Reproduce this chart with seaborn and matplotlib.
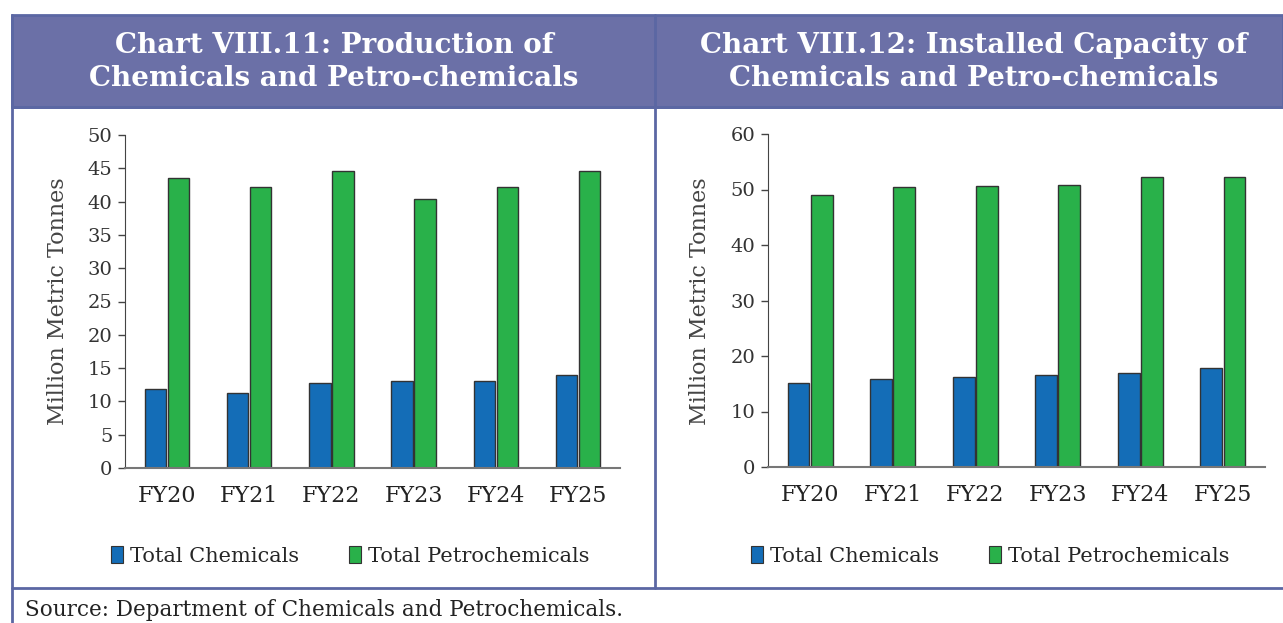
import pandas as pd
import matplotlib.pyplot as plt
import seaborn as sns
from matplotlib.patches import Rectangle
from matplotlib.lines import Line2D

# data
years = ["FY20", "FY21", "FY22", "FY23", "FY24", "FY25"]
prod_chem = [11.9, 11.2, 12.8, 13.1, 13.0, 14.0]
prod_petro = [43.5, 42.2, 44.6, 40.4, 42.2, 44.6]
cap_chem = [15.1, 15.8, 16.3, 16.6, 17.0, 17.8]
cap_petro = [49.0, 50.4, 50.7, 50.9, 52.3, 52.3]
series = ["Total Chemicals", "Total Petrochemicals"]
titles = ["Chart VIII.11: Production of\nChemicals and Petro-chemicals",
          "Chart VIII.12: Installed Capacity of\nChemicals and Petro-chemicals"]
source = "Source: Department of Chemicals and Petrochemicals."

colors = {"Total Chemicals": "#146db7", "Total Petrochemicals": "#29b14a"}
border = "#5b67a3"
header = "#6b70a7"
serif = ["DejaVu Serif"]


def long_df(a, b):
    return pd.DataFrame({
        "year": years * 2,
        "series": [series[0]] * len(years) + [series[1]] * len(years),
        "value": a + b,
    })


sns.set_style("white")
plt.rcParams["font.family"] = serif

fig = plt.figure(figsize=(12.83, 6.23), dpi=100)
W, H = 1283, 623


def fx(x):
    return x / W


def fy(y):
    return 1 - y / H


# frame and header bands
fig.patches.append(Rectangle((fx(12), fy(107)), fx(1283 - 12), fy(15) - fy(107),
                             transform=fig.transFigure, facecolor=header,
                             edgecolor=border, lw=2, zorder=0))
for seg in [((12, 12), (15, 623)), ((655, 655), (15, 588)), ((12, 1283), (588, 588)),
            ((12, 1283), (107, 107))]:
    fig.lines.append(Line2D([fx(seg[0][0]), fx(seg[0][1])], [fy(seg[1][0]), fy(seg[1][1])],
                            transform=fig.transFigure, color=border, lw=2))

fig.text(fx(334), fy(62), titles[0], ha="center", va="center", color="white",
         fontsize=20, fontweight="bold", linespacing=1.3)
fig.text(fx(974), fy(62), titles[1], ha="center", va="center", color="white",
         fontsize=20, fontweight="bold", linespacing=1.3)

ax1 = fig.add_axes([fx(125), fy(468), fx(620 - 125), fy(135) - fy(468)])
ax2 = fig.add_axes([fx(768), fy(467), fx(1265 - 768), fy(134) - fy(467)])

panels = [(ax1, long_df(prod_chem, prod_petro), 50, 5, 58, 350),
          (ax2, long_df(cap_chem, cap_petro), 60, 10, 700, 990)]

for ax, df, ymax, step, ylab_x, leg_x in panels:
    sns.barplot(data=df, x="year", y="value", hue="series", palette=colors,
                saturation=1, width=0.56, gap=0.06, edgecolor="#333333",
                linewidth=1, ax=ax, legend=False)
    ax.set_ylim(0, ymax)
    ax.set_yticks(range(0, ymax + 1, step))
    ax.set_xlim(-0.51, 5.51)
    ax.set_xlabel("")
    ax.set_ylabel("")
    sns.despine(ax=ax, top=True, right=True)
    ax.spines["left"].set_color("#444444")
    ax.spines["bottom"].set_color("#777777")
    ax.spines["bottom"].set_linewidth(1.5)
    ax.tick_params(axis="y", length=5, width=1, color="#444444", labelsize=14,
                   labelcolor="#333333", left=True, pad=4)
    ax.tick_params(axis="x", length=0, labelsize=16, labelcolor="#222222", pad=12)
    ax.patch.set_alpha(0)
    fig.text(fx(ylab_x), (fy(468) + fy(135)) / 2, "Million Metric Tonnes",
             rotation=90, ha="center", va="center", fontsize=16, color="#444444")
    handles = [Rectangle((0, 0), 1, 1, facecolor=colors[s], edgecolor="#333333", lw=0.8)
               for s in series]
    fig.legend(handles, series, loc="center", bbox_to_anchor=(fx(leg_x), fy(556)),
               ncol=2, frameon=False, handlelength=0.6, handleheight=0.9,
               handletextpad=0.3, columnspacing=2.4,
               prop={"family": serif, "size": 15})

fig.text(fx(25), fy(610), source, ha="left", va="center", fontsize=15.5,
         color="#222222")

fig.savefig("out.png", dpi=100)
